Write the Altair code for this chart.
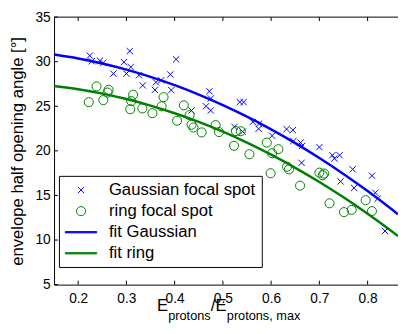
import altair as alt
import pandas as pd

FONT = "Liberation Sans"

# Gaussian focal spot measurements
gauss_x = [0.224, 0.228, 0.245, 0.252, 0.307, 0.295, 0.309, 0.273, 0.300, 0.326,
           0.334, 0.361, 0.372, 0.359, 0.391, 0.393, 0.403, 0.435, 0.465, 0.472,
           0.475, 0.475, 0.524, 0.535, 0.543, 0.541, 0.562, 0.575, 0.574, 0.602,
           0.632, 0.645, 0.646, 0.661, 0.664, 0.700, 0.727, 0.742, 0.731, 0.663,
           0.769, 0.744, 0.772, 0.809, 0.816, 0.821, 0.836]
gauss_y = [30.68, 30.05, 30.11, 29.87, 31.19, 29.95, 29.40, 28.66, 28.66, 28.48,
           27.34, 27.69, 27.91, 26.84, 28.57, 26.81, 30.27, 24.53, 25.00, 26.68,
           25.88, 24.54, 22.69, 25.47, 25.47, 22.16, 23.24, 23.05, 22.47, 21.70,
           22.44, 22.33, 21.10, 20.93, 20.55, 20.42, 19.51, 19.51, 19.14, 18.66,
           17.93, 16.57, 15.85, 17.22, 15.30, 14.64, 11.01]

# ring focal spot measurements
ring_x = [0.238, 0.263, 0.261, 0.222, 0.252, 0.314, 0.310, 0.308, 0.333, 0.354,
          0.377, 0.373, 0.419, 0.431, 0.405, 0.435, 0.439, 0.456, 0.485, 0.492,
          0.523, 0.527, 0.537, 0.555, 0.591, 0.615, 0.602, 0.599, 0.633, 0.637,
          0.660, 0.700, 0.710, 0.707, 0.721, 0.751, 0.767, 0.796, 0.809]
ring_y = [27.23, 26.84, 26.54, 25.46, 25.69, 26.29, 25.58, 24.67, 24.76, 24.23,
          26.02, 25.00, 25.11, 24.01, 23.38, 22.93, 22.62, 22.07, 22.89, 22.11,
          20.57, 22.22, 22.20, 19.62, 20.93, 20.19, 19.73, 17.49, 18.22, 17.93,
          16.10, 17.56, 17.46, 17.27, 14.12, 13.13, 13.38, 14.47, 13.24]

# fit curves
fit_x = [0.15, 0.20, 0.25, 0.30, 0.35, 0.40, 0.45, 0.50, 0.55, 0.60,
         0.65, 0.70, 0.75, 0.80, 0.85, 0.863]
fit_gauss = [30.80, 30.36, 29.80, 29.11, 28.30, 27.37, 26.32, 25.14, 23.84, 22.41,
             20.87, 19.20, 17.41, 15.49, 13.45, 12.90]
fit_ring = [27.27, 26.91, 26.42, 25.81, 25.08, 24.22, 23.25, 22.15, 20.92, 19.57,
            18.10, 16.51, 14.79, 12.95, 10.99, 10.46]

x_ticks = [0.2, 0.3, 0.4, 0.5, 0.6, 0.7, 0.8]
y_ticks = [5, 10, 15, 20, 25, 30, 35]

series = ["Gaussian focal spot", "ring focal spot", "fit Gaussian", "fit ring"]
BLUE = "#0000ff"
GREEN = "#008000"

W, H = 351, 273
SYM = 256  # 16 px symbol box; shape paths below are scaled relative to it

pts = pd.DataFrame({
    "x": gauss_x + ring_x,
    "y": gauss_y + ring_y,
    "series": [series[0]] * len(gauss_x) + [series[1]] * len(ring_x),
})
fit_g = pd.DataFrame({"x": fit_x, "y": fit_gauss})
fit_r = pd.DataFrame({"x": fit_x, "y": fit_ring})
tx = pd.DataFrame({"x": x_ticks})
ty = pd.DataFrame({"y": y_ticks})

xscale = alt.Scale(domain=[0.15, 0.863], nice=False, zero=False)
yscale = alt.Scale(domain=[5, 35], nice=False, zero=False)

xaxis = alt.Axis(values=x_ticks, format=".1f", ticks=False, grid=False, title=None,
                 labelFontSize=14, labelFont=FONT, labelColor="black", labelPadding=7,
                 labelFlush=False, labelOverlap=False, domainColor="black")
yaxis = alt.Axis(values=y_ticks, ticks=False, grid=False,
                 title="envelope half opening angle [°]", titleFontSize=17,
                 titleFont=FONT, titleFontWeight="normal", titleColor="black",
                 titlePadding=9, labelFontSize=14, labelFont=FONT,
                 labelColor="black", labelPadding=4, labelFlush=False,
                 labelOverlap=False, domainColor="black")

X = alt.X("x:Q", scale=xscale, axis=xaxis)
Y = alt.Y("y:Q", scale=yscale, axis=yaxis)

leg = alt.Legend(title=None, orient="none", legendX=5, legendY=162, padding=6,
                 rowPadding=3.5, symbolOffset=8, labelOffset=20, labelFontSize=17,
                 labelFont=FONT, labelColor="black", labelLimit=0,
                 strokeColor="black", fillColor="white", cornerRadius=0,
                 symbolStrokeWidth=1, symbolSize=SYM, direction="vertical")

line_path = "M-2,-0.08L2,-0.08L2,0.08L-2,0.08Z"
x_path = "M-0.4,-0.4L0.4,0.4M-0.4,0.4L0.4,-0.4"
o_path = ("M0.58,0C0.58,0.32 0.32,0.58 0,0.58C-0.32,0.58 -0.58,0.32 -0.58,0"
          "C-0.58,-0.32 -0.32,-0.58 0,-0.58C0.32,-0.58 0.58,-0.32 0.58,0Z")

points = alt.Chart(pts).mark_point(filled=True, strokeWidth=1, opacity=1, size=SYM).encode(
    x=X, y=Y,
    stroke=alt.Stroke("series:N", scale=alt.Scale(domain=series, range=[BLUE, GREEN, BLUE, GREEN]), legend=leg),
    fill=alt.Fill("series:N", scale=alt.Scale(domain=series, range=["transparent", "transparent", BLUE, GREEN]), legend=leg),
    shape=alt.Shape("series:N", scale=alt.Scale(domain=series, range=[x_path, o_path, line_path, line_path]), legend=leg),
)

line_g = alt.Chart(fit_g).mark_line(color=BLUE, strokeWidth=2.5, interpolate="monotone").encode(x=X, y=Y)
line_r = alt.Chart(fit_r).mark_line(color=GREEN, strokeWidth=2.5, interpolate="monotone").encode(x=X, y=Y)

bottom_ticks = alt.Chart(tx).mark_rule(color="black").encode(x=X, y=alt.value(H), y2=alt.value(H - 4))
top_ticks = alt.Chart(tx).mark_rule(color="black").encode(x=X, y=alt.value(0), y2=alt.value(4))
left_ticks = alt.Chart(ty).mark_rule(color="black").encode(y=Y, x=alt.value(0), x2=alt.value(4))
one = alt.Data(values=[{}])
top_border = alt.Chart(one).mark_rule(color="black").encode(x=alt.value(0), x2=alt.value(W), y=alt.value(0))

def txt(s, x, y, size):
    return alt.Chart(one).mark_text(align="left", baseline="alphabetic", font=FONT,
                                    fontSize=size, color="black").encode(
        x=alt.value(x), y=alt.value(y), text=alt.value(s))

title_parts = [
    txt("E", 105, 300, 17),
    txt("protons", 116.5, 309, 13),
    txt("/E", 160, 300, 17),
    txt("protons, max", 176.3, 309, 13),
]

chart = alt.layer(line_g, line_r, points, bottom_ticks, top_ticks, left_ticks, top_border,
                  *title_parts).properties(
    width=W, height=H,
    autosize=alt.AutoSizeParams(type="none"),
    padding={"left": 47, "top": 6, "right": 0, "bottom": 43},
).configure_view(stroke=None)

chart.save("out.html", embed_options={"renderer": "svg", "actions": False})
